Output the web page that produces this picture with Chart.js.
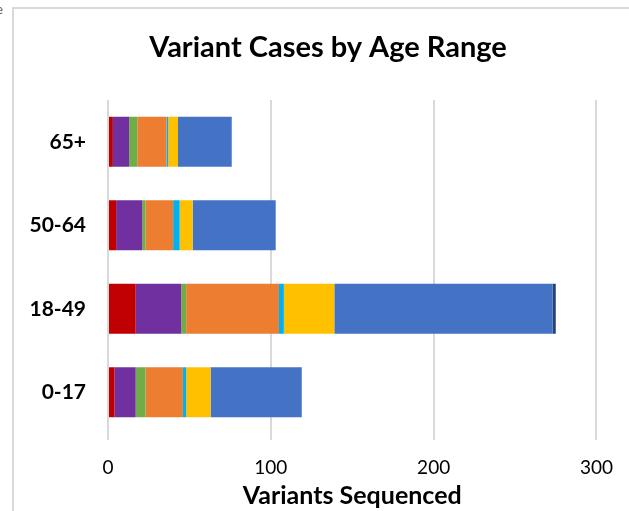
<!DOCTYPE html>
<html>
<head>
<meta charset="utf-8">
<script src="https://cdn.jsdelivr.net/npm/chart.js@4"></script>
<style>
  body { margin: 0; background: #fff; overflow: hidden; }
  #wrap { position: relative; width: 629px; height: 511px; }
  #frame { position: absolute; left: 12px; top: 7px; width: 700px; height: 600px; border: 2px solid #d9d9d9; box-sizing: border-box; }
  #cut { position: absolute; left: -4px; top: 1px; font: 13px Lato, sans-serif; color: #595959; }
  canvas { position: absolute; left: 0; top: 0; }
</style>
</head>
<body>
<div id="wrap">
  <div id="frame"></div>
  <span id="cut">e</span>
  <canvas id="chart" width="629" height="511"></canvas>
</div>
<script>
// Age ranges, top to bottom
const ageRanges = ['65+', '50-64', '18-49', '0-17'];

// Variant counts per age range (same order as ageRanges)
const redSeries    = [3, 5, 17, 4];
const purpleSeries = [10, 16, 28, 13];
const greenSeries  = [5, 2, 3, 6];
const orangeSeries = [18, 17, 57, 23];
const cyanSeries   = [1, 4, 3, 2];
const yellowSeries = [6, 8, 31, 15];
const blueSeries   = [33, 51, 134, 56];
const navySeries   = [0, 0, 2, 0];

const xTicks = [0, 100, 200, 300];
const chartTitle = 'Variant Cases by Age Range';

const font = 'Lato, "Open Sans", sans-serif';

function ds(label, data, color) {
    return { label, data, backgroundColor: color, borderWidth: 0 };
}

// title is centred on the whole frame, not on the plot, so draw it here
const titlePlugin = {
    id: 'frameTitle',
    afterDraw(chart) {
        const c = chart.ctx;
        c.save();
        c.font = 'bold 29px ' + font;
        c.fillStyle = '#000';
        c.textAlign = 'center';
        c.textBaseline = 'alphabetic';
        c.fillText(chartTitle, 328, 57);
        c.restore();
    }
};

const ctx = document.getElementById('chart').getContext('2d');
new Chart(ctx, {
    type: 'bar',
    data: {
        labels: ageRanges,
        datasets: [
            ds('Variant A', redSeries, '#C00000'),
            ds('Variant B', purpleSeries, '#7030A0'),
            ds('Variant C', greenSeries, '#70AD47'),
            ds('Variant D', orangeSeries, '#ED7D31'),
            ds('Variant E', cyanSeries, '#00B0F0'),
            ds('Variant F', yellowSeries, '#FFC000'),
            ds('Variant G', blueSeries, '#4472C4'),
            ds('Variant H', navySeries, '#264478')
        ]
    },
    plugins: [titlePlugin],
    options: {
        indexAxis: 'y',
        responsive: false,
        animation: false,
        categoryPercentage: 1,
        barPercentage: 0.6,
        layout: { padding: { left: 0, right: 31, top: 100, bottom: 0 } },
        plugins: {
            legend: { display: false },
            tooltip: { enabled: false },
            title: { display: false }
        },
        scales: {
            x: {
                stacked: true,
                min: 0,
                max: 300,
                afterBuildTicks: s => { s.ticks = xTicks.map(v => ({ value: v })); },
                afterFit: s => { s.height = 77; },
                grid: { color: '#d9d9d9', lineWidth: 2, tickLength: 6, drawTicks: true },
                border: { display: false },
                ticks: { color: '#000', padding: 16, maxRotation: 0, font: { family: font, size: 19 } },
                title: {
                    display: true,
                    text: 'Variants Sequenced',
                    color: '#000',
                    font: { family: font, size: 25, weight: 'bold' },
                    padding: { top: 0, bottom: 0 }
                }
            },
            y: {
                stacked: true,
                afterFit: s => { s.width = 108; },
                grid: { display: false, drawTicks: false },
                border: { display: false },
                ticks: { color: '#000', padding: 22, font: { family: font, size: 21, weight: 'bold' } }
            }
        }
    }
});
</script>
</body>
</html>
